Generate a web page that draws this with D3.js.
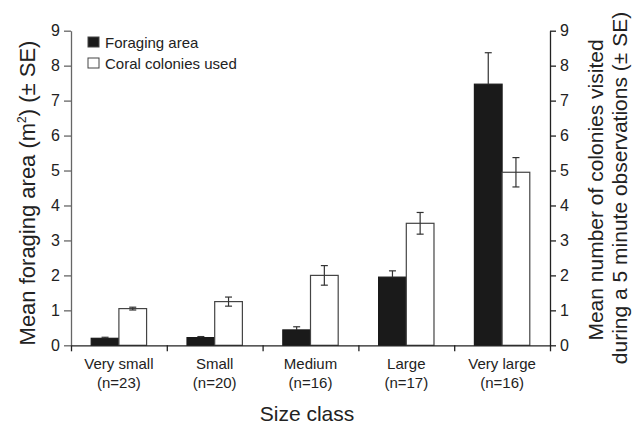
<!DOCTYPE html>
<html>
<head>
<meta charset="utf-8">
<script src="https://cdnjs.cloudflare.com/ajax/libs/d3/7.8.5/d3.min.js"></script>
<style>
body { margin: 0; background: #fff; }
svg { font-family: "Liberation Sans", Arial, sans-serif; }
</style>
</head>
<body>
<svg width="638" height="427"></svg>
<script>
// values
var sizeClasses = ["Very small", "Small", "Medium", "Large", "Very large"];
var nLabels = ["(n=23)", "(n=20)", "(n=16)", "(n=17)", "(n=16)"];
var areaMean = [0.20, 0.22, 0.44, 1.95, 7.47];
var areaSE = [0.03, 0.03, 0.09, 0.18, 0.90];
var coloniesMean = [1.05, 1.25, 2.00, 3.49, 4.95];
var coloniesSE = [0.04, 0.13, 0.28, 0.31, 0.42];
var yTicks = [0, 1, 2, 3, 4, 5, 6, 7, 8, 9];
var series = ["area", "colonies"];

var svg = d3.select("svg");
var plotL = 71, plotR = 550, plotT = 30.7, plotB = 345.3;

var x = d3.scaleBand().domain(sizeClasses).range([plotL, plotR]);
var x1 = d3.scaleBand().domain(series).range([0, x.bandwidth()]).paddingOuter(0.73);
var xEdge = d3.scaleLinear().domain([0, sizeClasses.length]).range([plotL, plotR]);
var y = d3.scaleLinear().domain([0, 9]).range([plotB, plotT]);

var rows = sizeClasses.map(function(c, i) {
  return {cat: c, n: nLabels[i],
    vals: [{s: "area", m: areaMean[i], se: areaSE[i]},
           {s: "colonies", m: coloniesMean[i], se: coloniesSE[i]}]};
});

var g = svg.selectAll("g.grp").data(rows).enter().append("g")
  .attr("transform", function(d) { return "translate(" + x(d.cat) + ",0)"; });

// bars
g.selectAll("rect").data(function(d) { return d.vals; }).enter().append("rect")
  .attr("x", function(d) { return x1(d.s); })
  .attr("width", x1.bandwidth())
  .attr("y", function(d) { return y(d.m); })
  .attr("height", function(d) { return y(0) - y(d.m); })
  .attr("fill", function(d) { return d.s == "area" ? "#1a1a1a" : "#fff"; })
  .attr("stroke", function(d) { return d.s == "area" ? "#1a1a1a" : "#444"; })
  .attr("stroke-width", 1.2);

// error bars: black bars only show the upper whisker
g.selectAll("g.err").data(function(d) { return d.vals; }).enter().append("g")
  .each(function(d) {
    var cx = x1(d.s) + x1.bandwidth() / 2;
    var lo = d.s == "area" ? d.m : d.m - d.se;
    var e = d3.select(this);
    e.append("line").attr("x1", cx).attr("x2", cx)
      .attr("y1", y(lo)).attr("y2", y(d.m + d.se));
    e.append("line").attr("x1", cx - 3.5).attr("x2", cx + 3.5)
      .attr("y1", y(d.m + d.se)).attr("y2", y(d.m + d.se));
    if (d.s == "colonies") {
      e.append("line").attr("x1", cx - 3.5).attr("x2", cx + 3.5)
        .attr("y1", y(lo)).attr("y2", y(lo));
    }
  })
  .attr("stroke", "#333").attr("stroke-width", 1.2);

// axes
var yl = svg.append("g").attr("transform", "translate(" + plotL + ",0)")
  .call(d3.axisLeft(y).tickValues(yTicks).tickSize(7).tickSizeOuter(0).tickPadding(4));
var yr = svg.append("g").attr("transform", "translate(" + plotR + ",0)")
  .call(d3.axisRight(y).tickValues(yTicks).tickSize(6).tickSizeOuter(0).tickPadding(4));
var xb = svg.append("g").attr("transform", "translate(0," + plotB + ")")
  .call(d3.axisBottom(xEdge).tickValues(d3.range(sizeClasses.length + 1)).tickFormat("").tickSize(6).tickSizeOuter(0));

[yl, yr, xb].forEach(function(a) {
  a.selectAll("text").attr("font-size", 16).attr("fill", "#222").attr("font-family", "Liberation Sans, Arial, sans-serif");
  a.selectAll("line,path").attr("stroke", "#222").attr("stroke-width", 1.3);
});
yl.selectAll("line,path").attr("stroke", "#666");

// category labels
svg.selectAll("text.cat").data(rows).enter().append("text")
  .attr("x", function(d) { return x(d.cat) + x.bandwidth() / 2; })
  .attr("y", 369).attr("text-anchor", "middle").attr("font-size", 15).attr("fill", "#222")
  .text(function(d) { return d.cat; });
svg.selectAll("text.n").data(rows).enter().append("text")
  .attr("x", function(d) { return x(d.cat) + x.bandwidth() / 2; })
  .attr("y", 388).attr("text-anchor", "middle").attr("font-size", 15).attr("fill", "#222")
  .text(function(d) { return d.n; });

svg.append("text").attr("x", 307).attr("y", 421).attr("text-anchor", "middle")
  .attr("font-size", 21).attr("fill", "#222").text("Size class");

// axis titles
var lt = svg.append("text").attr("transform", "translate(35,193) rotate(-90)")
  .attr("text-anchor", "middle").attr("font-size", 22).attr("fill", "#222");
lt.append("tspan").text("Mean foraging area (m");
lt.append("tspan").attr("font-size", 12).attr("dy", -9).text("2");
lt.append("tspan").attr("dy", 9).text(") (\u00b1 SE)");

svg.append("text").attr("transform", "translate(603,190) rotate(-90)")
  .attr("text-anchor", "middle").attr("font-size", 21).attr("fill", "#222")
  .text("Mean number of colonies visited");
svg.append("text").attr("transform", "translate(627,188) rotate(-90)")
  .attr("text-anchor", "middle").attr("font-size", 21).attr("fill", "#222")
  .text("during a 5 minute observations (\u00b1 SE)");

// legend
var legend = [{label: "Foraging area", fill: "#1a1a1a"}, {label: "Coral colonies used", fill: "#fff"}];
var lg = svg.selectAll("g.leg").data(legend).enter().append("g")
  .attr("transform", function(d, i) { return "translate(88," + (37 + i * 21) + ")"; });
lg.append("rect").attr("width", 11).attr("height", 10)
  .attr("fill", function(d) { return d.fill; }).attr("stroke", "#444");
lg.append("text").attr("x", 17).attr("y", 11).attr("font-size", 15).attr("fill", "#222")
  .text(function(d) { return d.label; });
</script>
</body>
</html>
